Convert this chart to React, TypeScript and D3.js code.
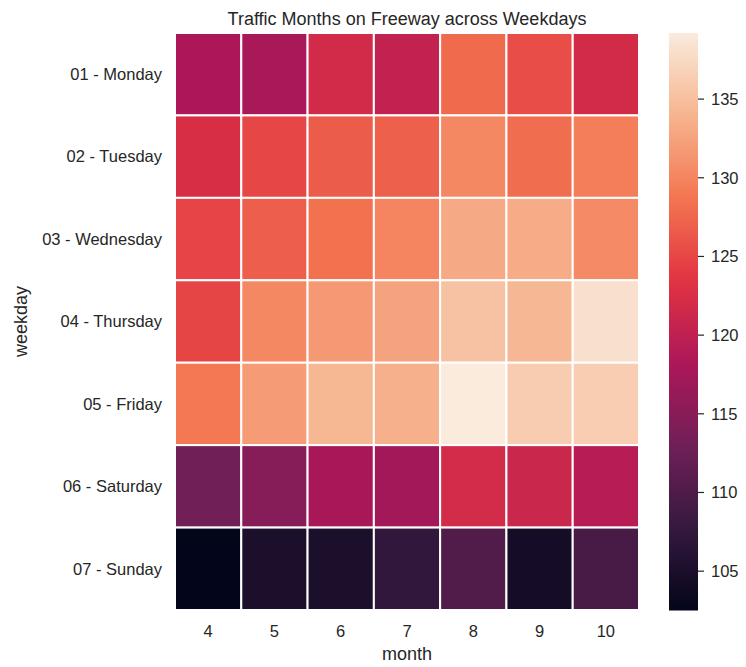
import React from "react";
import * as d3 from "d3";

const weekdays = ["01 - Monday", "02 - Tuesday", "03 - Wednesday", "04 - Thursday", "05 - Friday", "06 - Saturday", "07 - Sunday"];
const months = ["4", "5", "6", "7", "8", "9", "10"];
const monday = [118.2, 117.9, 121.9, 120.2, 127.8, 125.5, 122.0];
const tuesday = [122.5, 125.0, 126.7, 127.0, 130.2, 128.0, 129.4];
const wednesday = [124.8, 126.9, 128.4, 130.0, 133.0, 133.3, 130.5];
const thursday = [124.9, 130.2, 131.7, 132.5, 135.3, 134.3, 138.1];
const friday = [128.9, 131.9, 134.2, 133.6, 139.2, 136.2, 136.3];
const saturday = [113.1, 114.9, 117.8, 117.4, 122.1, 121.2, 119.2];
const sunday = [102.5, 105.0, 105.0, 107.3, 110.3, 104.4, 109.4];
const values = [monday, tuesday, wednesday, thursday, friday, saturday, sunday];
const cbarTicks = [105, 110, 115, 120, 125, 130, 135];

const rocketStops = ["#03051a", "#35193e", "#701f57", "#ad1759", "#e13342", "#f37651", "#f6b48f", "#faebdd"];
const rocketPos = [0, 1 / 7, 2 / 7, 3 / 7, 4 / 7, 5 / 7, 6 / 7, 1];
const rocket = d3.scaleLinear<string>().domain(rocketPos).range(rocketStops).interpolate(d3.interpolateRgb);

export default function App() {
  const W = 746, H = 667;
  const left = 175, right = 639, top = 33, bottom = 610;
  const flat = values.flat();
  const vmin = d3.min(flat)!, vmax = d3.max(flat)!;
  const x = d3.scaleBand().domain(months).range([left, right]);
  const y = d3.scaleBand().domain(weekdays).range([top, bottom]);
  const norm = d3.scaleLinear().domain([vmin, vmax]).range([0, 1]);
  const color = (v: number) => rocket(norm(v));
  const cbX = 669, cbW = 29;
  const cbY = d3.scaleLinear().domain([vmin, vmax]).range([bottom + 0.5, top]);
  const font = "'Liberation Sans', Arial, sans-serif";
  const txt = "#262626";
  const stops = d3.range(0, 1.0001, 0.02);
  return (
    <svg width={W} height={H} style={{ position: "absolute", left: 0, top: 0 }} fontFamily={font}>
      <defs>
        <linearGradient id="cb" x1="0" y1="1" x2="0" y2="0">
          {stops.map((s, i) => (
            <stop key={i} offset={s} stopColor={rocket(s)} />
          ))}
        </linearGradient>
      </defs>
      <rect width={W} height={H} fill="white" />
      <text x={(left + right) / 2} y={25} textAnchor="middle" fontSize={18} fill={txt}>
        Traffic Months on Freeway across Weekdays
      </text>
      {values.map((row, i) =>
        row.map((v, j) => (
          <rect
            key={`${i}-${j}`}
            x={x(months[j])!}
            y={y(weekdays[i])!}
            width={x.bandwidth()}
            height={y.bandwidth()}
            fill={color(v)}
            stroke="white"
            strokeWidth={2}
          />
        ))
      )}
      {weekdays.map((w) => (
        <text key={w} x={162} y={y(w)! + y.bandwidth() / 2} dy="0.35em" textAnchor="end" fontSize={16.5} fill={txt}>
          {w}
        </text>
      ))}
      {months.map((m) => (
        <text key={m} x={x(m)! + x.bandwidth() / 2} y={637} textAnchor="middle" fontSize={16.5} fill={txt}>
          {m}
        </text>
      ))}
      <text x={(left + right) / 2} y={660} textAnchor="middle" fontSize={18} fill={txt}>
        month
      </text>
      <text transform={`translate(27, ${(top + bottom) / 2}) rotate(-90)`} textAnchor="middle" fontSize={18} fill={txt}>
        weekday
      </text>
      <rect x={cbX} y={top} width={cbW} height={bottom + 0.5 - top} fill="url(#cb)" />
      {cbarTicks.map((t) => (
        <g key={t}>
          <line x1={cbX + cbW} x2={cbX + cbW + 6} y1={cbY(t)} y2={cbY(t)} stroke={txt} strokeWidth={1.2} />
          <text x={cbX + cbW + 13} y={cbY(t)} dy="0.35em" fontSize={16.5} fill={txt}>
            {t}
          </text>
        </g>
      ))}
    </svg>
  );
}
